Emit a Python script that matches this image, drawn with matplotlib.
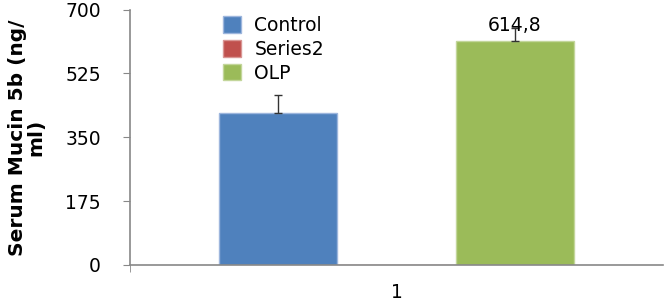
import matplotlib.pyplot as plt

series = ['Control', 'Series2', 'OLP']
values = [416, 0, 614.8]
errors = [50, 0, 35]
colors = ['#4F81BD', '#C0504D', '#9BBB59']
edges = ['#9DB6DD', '#D99694', '#C3D69B']
yticks = [0, 175, 350, 525, 700]

fig = plt.figure(figsize=(6.66, 3.02), dpi=100)
ax = fig.add_axes([130/666, 37/302, 533/666, 255.5/302])

width = 1 / 4.5
for i, (name, v, e, c, ec) in enumerate(zip(series, values, errors, colors, edges)):
    x = 1 + (i - 1) * width
    ax.bar(x, v, width, color=c, edgecolor=ec, linewidth=1, label=name)
    if v > 0:
        ax.errorbar(x, v, yerr=[[0], [e]], fmt='none', ecolor='#333333',
                    elinewidth=1, capsize=3, capthick=1)

ax.text(1 + width, values[2] + 16, '614,8', ha='center', va='bottom', fontsize=13.5)

ax.set_xlim(0.5, 1.5)
ax.set_ylim(0, 700)
ax.set_yticks(yticks)
ax.set_yticklabels([str(t) for t in yticks], fontsize=13.5)
ax.set_xticks([1])
ax.set_xticklabels(['1'], fontsize=13.5)
ax.tick_params(axis='x', length=0, pad=13)
ax.tick_params(axis='y', length=5, color='#888888', pad=16)
ax.set_xticks([0.5], minor=True)
ax.tick_params(axis='x', which='minor', length=5, color='#888888')

for s in ['top', 'right']:
    ax.spines[s].set_visible(False)
for s in ['left', 'bottom']:
    ax.spines[s].set_color('#888888')
    ax.spines[s].set_linewidth(1.2)

ax.set_ylabel('Serum Mucin 5b (ng/\nml)', fontsize=14.5, fontweight='bold',
              linespacing=1.0)
ax.yaxis.set_label_coords(-0.158, 0.5)

leg = ax.legend(loc='upper left', bbox_to_anchor=(0.142, 1.04), frameon=False,
                fontsize=13.5, handlelength=1.0, handleheight=1.0,
                handletextpad=0.7, labelspacing=0.25)

fig.savefig('out.png', dpi=100)
